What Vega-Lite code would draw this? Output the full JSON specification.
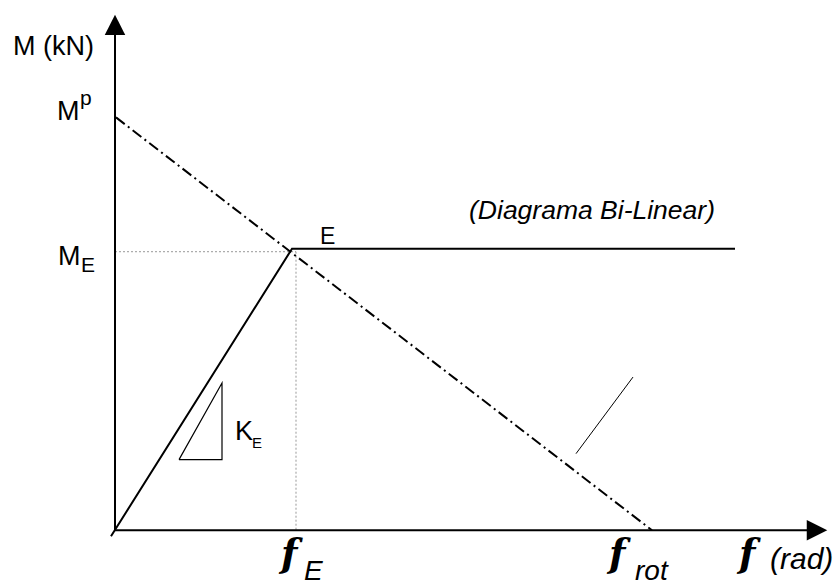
{
  "$schema": "https://vega.github.io/schema/vega-lite/v6.json",
  "width": 839,
  "height": 586,
  "padding": 0,
  "autosize": {"type": "fit", "contains": "padding"},
  "background": "white",
  "config": {"view": {"stroke": null}},
  "datasets": {
    "axes": [
      {"id": "y", "o": 0, "x": 0, "y": 0},
      {"id": "y", "o": 1, "x": 0, "y": 500},
      {"id": "x", "o": 0, "x": 0, "y": 0},
      {"id": "x", "o": 1, "x": 694, "y": 0}
    ],
    "bilinear": [
      {"o": 0, "x": -4, "y": -6},
      {"o": 1, "x": 177, "y": 283},
      {"o": 2, "x": 620, "y": 283}
    ],
    "dotted": [
      {"id": "h", "o": 0, "x": 0, "y": 280},
      {"id": "h", "o": 1, "x": 181, "y": 280},
      {"id": "v", "o": 0, "x": 181, "y": 280},
      {"id": "v", "o": 1, "x": 181, "y": 0}
    ],
    "dashdot": [
      {"o": 0, "x": 1, "y": 415},
      {"o": 1, "x": 537, "y": 0}
    ],
    "thin": [
      {"o": 0, "x": 461, "y": 77},
      {"o": 1, "x": 518, "y": 154}
    ],
    "triangle": [
      {"o": 0, "x": 64, "y": 71},
      {"o": 1, "x": 107, "y": 71},
      {"o": 2, "x": 107, "y": 148},
      {"o": 3, "x": 64, "y": 71}
    ],
    "arrowUp": [{"x": 0, "y": 508}],
    "arrowRight": [{"x": 702, "y": 0}],
    "bigLabels": [
      {"t": "M (kN)", "x": -102, "y": 478},
      {"t": "M", "x": -58, "y": 412},
      {"t": "M", "x": -57, "y": 267},
      {"t": "K", "x": 120, "y": 91}
    ],
    "smallLabels": [
      {"t": "p", "x": -35, "y": 427},
      {"t": "E", "x": -34, "y": 260}
    ],
    "pointLabel": [{"t": "E", "x": 205, "y": 288}],
    "kSub": [{"t": "E", "x": 137, "y": 83}],
    "title": [{"t": "(Diagrama Bi-Linear)", "x": 477, "y": 313}],
    "fLabels": [
      {"t": "f", "x": 166, "y": -36},
      {"t": "f", "x": 494, "y": -36},
      {"t": "f", "x": 624, "y": -36}
    ],
    "fSubs": [
      {"t": "E", "x": 189, "y": -50},
      {"t": "rot", "x": 520, "y": -50}
    ],
    "rad": [{"t": "(rad)", "x": 655, "y": -39}]
  },
  "encoding": {
    "x": {"field": "x", "type": "quantitative", "scale": {"domain": [-115, 724], "nice": false, "zero": false}, "axis": null},
    "y": {"field": "y", "type": "quantitative", "scale": {"domain": [-53, 533], "nice": false, "zero": false}, "axis": null}
  },
  "layer": [
    {
      "data": {"name": "dotted"},
      "mark": {"type": "line", "color": "#999999", "strokeWidth": 1, "strokeDash": [2, 2]},
      "encoding": {"detail": {"field": "id"}, "order": {"field": "o"}}
    },
    {
      "data": {"name": "axes"},
      "mark": {"type": "line", "color": "black", "strokeWidth": 2},
      "encoding": {"detail": {"field": "id"}, "order": {"field": "o"}}
    },
    {
      "data": {"name": "bilinear"},
      "mark": {"type": "line", "color": "black", "strokeWidth": 2},
      "encoding": {"order": {"field": "o"}}
    },
    {
      "data": {"name": "dashdot"},
      "mark": {"type": "line", "color": "black", "strokeWidth": 2, "strokeDash": [11, 4, 2, 4]},
      "encoding": {"order": {"field": "o"}}
    },
    {
      "data": {"name": "thin"},
      "mark": {"type": "line", "color": "black", "strokeWidth": 1},
      "encoding": {"order": {"field": "o"}}
    },
    {
      "data": {"name": "triangle"},
      "mark": {"type": "line", "color": "black", "strokeWidth": 1.2},
      "encoding": {"order": {"field": "o"}}
    },
    {
      "data": {"name": "arrowUp"},
      "mark": {"type": "point", "shape": "M0,-1L1,1L-1,1Z", "size": 420, "filled": true, "color": "black", "opacity": 1}
    },
    {
      "data": {"name": "arrowRight"},
      "mark": {"type": "point", "shape": "M1,0L-1,-1L-1,1Z", "size": 420, "filled": true, "color": "black", "opacity": 1}
    },
    {
      "data": {"name": "bigLabels"},
      "mark": {"type": "text", "font": "Liberation Sans", "fontSize": 27, "align": "left", "baseline": "alphabetic", "color": "black"},
      "encoding": {"text": {"field": "t"}}
    },
    {
      "data": {"name": "smallLabels"},
      "mark": {"type": "text", "font": "Liberation Sans", "fontSize": 21, "align": "left", "baseline": "alphabetic", "color": "black"},
      "encoding": {"text": {"field": "t"}}
    },
    {
      "data": {"name": "pointLabel"},
      "mark": {"type": "text", "font": "Liberation Sans", "fontSize": 23, "align": "left", "baseline": "alphabetic", "color": "black"},
      "encoding": {"text": {"field": "t"}}
    },
    {
      "data": {"name": "kSub"},
      "mark": {"type": "text", "font": "Liberation Sans", "fontSize": 15, "align": "left", "baseline": "alphabetic", "color": "black"},
      "encoding": {"text": {"field": "t"}}
    },
    {
      "data": {"name": "title"},
      "mark": {"type": "text", "font": "Liberation Sans", "fontSize": 26.5, "fontStyle": "italic", "align": "center", "baseline": "alphabetic", "color": "black"},
      "encoding": {"text": {"field": "t"}}
    },
    {
      "data": {"name": "fLabels"},
      "mark": {"type": "text", "font": "DejaVu Serif", "fontSize": 38, "fontStyle": "italic", "fontWeight": 600, "align": "left", "baseline": "alphabetic", "color": "black"},
      "encoding": {"text": {"field": "t"}}
    },
    {
      "data": {"name": "fSubs"},
      "mark": {"type": "text", "font": "Liberation Sans", "fontSize": 28, "fontStyle": "italic", "align": "left", "baseline": "alphabetic", "color": "black"},
      "encoding": {"text": {"field": "t"}}
    },
    {
      "data": {"name": "rad"},
      "mark": {"type": "text", "font": "Liberation Sans", "fontSize": 30, "fontStyle": "italic", "align": "left", "baseline": "alphabetic", "color": "black"},
      "encoding": {"text": {"field": "t"}}
    }
  ]
}
